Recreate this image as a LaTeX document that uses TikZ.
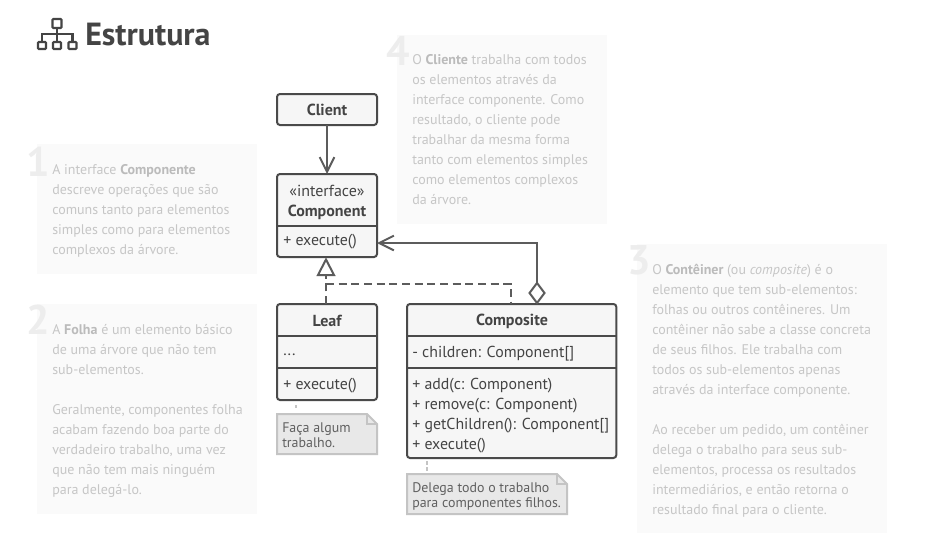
\documentclass[tikz,border=0pt]{standalone}
\usepackage{fontspec}
\setmainfont{PT Sans}
\usetikzlibrary{arrows.meta}
\definecolor{ink}{HTML}{444444}
\definecolor{edge}{HTML}{4A4A4A}
\definecolor{wire}{HTML}{5C5C5C}
\definecolor{boxfill}{HTML}{F6F6F6}
\definecolor{panelfill}{HTML}{FAFAFA}
\definecolor{paneltext}{HTML}{C6C6C6}
\definecolor{panelbold}{HTML}{BBBBBB}
\definecolor{numcol}{HTML}{EDEDED}
\definecolor{notefill}{HTML}{E8E8E8}
\definecolor{noteedge}{HTML}{C4C4C4}
\newcommand{\pb}[1]{\textbf{\color{panelbold}#1}}
\tikzset{
  x=0.75pt,y=-0.75pt,
  panel/.style={fill=panelfill,draw=none},
  paneltxt/.style={anchor=north west,inner sep=0pt,align=left,text=paneltext,font=\fontsize{10.5pt}{15pt}\selectfont},
  numeral/.style={anchor=center,inner sep=0pt,text=numcol,font=\fontsize{31pt}{31pt}\selectfont\bfseries},
  umlbox/.style={draw=edge,fill=boxfill,line width=1.5pt,rounded corners=2.2pt,inner sep=0pt,outer sep=0pt},
  divider/.style={draw=edge,line width=1.5pt},
  title/.style={inner sep=0pt,text=ink,font=\fontsize{12pt}{15pt}\selectfont\bfseries,align=center},
  member/.style={inner sep=0pt,anchor=west,text=ink,font=\fontsize{11.9pt}{14pt}\selectfont},
  wireline/.style={draw=wire,line width=1.5pt},
  assoc/.style={wireline,-{Straight Barb[length=11pt,width=11pt,line width=1.5pt]}},
  notebody/.style={fill=notefill,draw=noteedge,line width=1.5pt,line join=miter},
  notetxt/.style={anchor=north west,inner sep=0pt,align=left,text=ink!85,font=\fontsize{10.45pt}{11.25pt}\selectfont},
  notelink/.style={draw=noteedge,line width=1.5pt,dash pattern=on 3pt off 1.5pt},
  iconline/.style={draw=ink,line width=1.6pt,rounded corners=0.6pt},
}
\begin{document}
\begin{tikzpicture}
\useasboundingbox (0,0) rectangle (928,550);
\fill[white] (0,0) rectangle (928,550);
% icon and heading
\draw[iconline] (52.5,19) rectangle (61.5,28);
\draw[iconline] (38,42) rectangle (46,49);
\draw[iconline] (53,42) rectangle (61,49);
\draw[iconline] (68.5,42) rectangle (76.5,49);
\draw[draw=ink,line width=1.6pt] (57,28) -- (57,34) (42,41) -- (42,34) -- (72.5,34) -- (72.5,41) (57,34) -- (57,41);
\node[anchor=west,inner sep=0pt,text=ink,font=\fontsize{24pt}{26pt}\selectfont\bfseries] (heading) at (85,35) {Estrutura};
% panels
\fill[panel] (37,144) rectangle (257,274);
\fill[panel] (37,304) rectangle (257,514);
\fill[panel] (397,35) rectangle (607,224);
\fill[panel] (637,244) rectangle (887,533);
\node[numeral] (n1) at (38,162) {1};
\node[numeral] (n2) at (38,320) {2};
\node[numeral] (n4) at (398,51) {4};
\node[numeral] (n3) at (639,260) {3};
\node[paneltxt] (t1) at (52,164) {A interface \pb{Componente}\\descreve operações que são\\comuns tanto para elementos\\simples como para elementos\\complexos da árvore.};
\node[paneltxt] (t2) at (52,324) {A \pb{Folha} é um elemento básico\\de uma árvore que não tem\\sub-elementos.\\[15pt]Geralmente, componentes folha\\acabam fazendo boa parte do\\verdadeiro trabalho, uma vez\\que não tem mais ninguém\\para delegá-lo.};
\node[paneltxt] (t4) at (412,54) {O \pb{Cliente} trabalha com todos\\os elementos através da\\interface componente. Como\\resultado, o cliente pode\\trabalhar da mesma forma\\tanto com elementos simples\\como elementos complexos\\da árvore.};
\node[paneltxt] (t3) at (652,264) {O \pb{Contêiner} (ou \textit{composite}) é o\\elemento que tem sub-elementos:\\folhas ou outros contêineres. Um\\contêiner não sabe a classe concreta\\de seus filhos. Ele trabalha com\\todos os sub-elementos apenas\\através da interface componente.\\[15pt]Ao receber um pedido, um contêiner\\delega o trabalho para seus sub-\\elementos, processa os resultados\\intermediários, e então retorna o\\resultado final para o cliente.};
% notes
\draw[notebody] (277,414) -- (367,414) -- (377,424) -- (377,454) -- (277,454) -- cycle;
\draw[noteedge,line width=1.5pt] (367,414) -- (367,424) -- (377,424);
\node[notetxt] (leafnote) at (282,422) {Faça algum\\trabalho.};
\draw[notebody] (407,474) -- (557,474) -- (567,484) -- (567,514) -- (407,514) -- cycle;
\draw[noteedge,line width=1.5pt] (557,474) -- (557,484) -- (567,484);
\node[notetxt] (compnote) at (412,482) {Delega todo o trabalho\\para componentes filhos.};
% classes
\node[umlbox,anchor=north west,minimum width=75pt,minimum height=23.25pt] (client) at (277,94) {};
\node[title] (clientT) at (327,110) {Client};
\node[umlbox,anchor=north west,minimum width=75pt,minimum height=62.25pt] (comp) at (277,174) {};
\draw[divider] (277,225.5) -- (377,225.5);
\node[title] (compT) at (327,202) {{\mdseries«interface»}\\Component};
\node[member] (compM) at (283,242) {+ execute()};
\node[umlbox,anchor=north west,minimum width=75pt,minimum height=72pt] (leaf) at (277,304) {};
\draw[divider] (277,335.5) -- (377,335.5);
\draw[divider] (277,368) -- (377,368);
\node[title] (leafT) at (327,320.5) {Leaf};
\node[member] (leafA) at (283,355) {...};
\node[member] (leafM) at (283,386) {+ execute()};
\node[umlbox,anchor=north west,minimum width=157pt,minimum height=115.5pt] (composite) at (407,304) {};
\draw[divider] (407,335.5) -- (616.3,335.5);
\draw[divider] (407,368) -- (616.3,368);
\node[title] (compositeT) at (512,321) {Composite};
\node[member] (compositeA) at (412,354) {- children: Component[]};
\node[member] (m1) at (412,386) {+ add(c: Component)};
\node[member] (m2) at (412,406) {+ remove(c: Component)};
\node[member] (m3) at (412,426) {+ getChildren(): Component[]};
\node[member] (m4) at (412,446) {+ execute()};
% connectors
\draw[notelink] ([xshift=14.6pt]leaf.south west) ++(0,5) -- ++(0,3);
\draw[notelink] ([xshift=15pt]composite.south west) ++(0,3) -- ++(0,11);
\draw[assoc] (client.south) -- (comp.north);
\coordinate (jointop) at (537,243);
\coordinate (diamondtop) at (537,283);
\coordinate (dashknee) at (326,284);
\coordinate (dashdrop) at (511,284);
\coordinate (tribase) at (326,275);
\draw[assoc] (diamondtop) -- (jointop) -- (comp.east |- jointop);
\draw[wireline,fill=white,line join=miter] (537,283) -- (544.5,293) -- (537,303) -- (529.5,293) -- cycle;
\draw[wireline,dash pattern=on 6pt off 3.5pt] (leaf.north -| tribase) -- (tribase);
\draw[wireline,dash pattern=on 6pt off 3.5pt] (dashknee) -- (dashdrop) -- (dashdrop |- composite.north);
\draw[wireline,fill=white,line join=miter] (326,259.5) -- (334,275) -- (318,275) -- cycle;
\end{tikzpicture}
\end{document}
